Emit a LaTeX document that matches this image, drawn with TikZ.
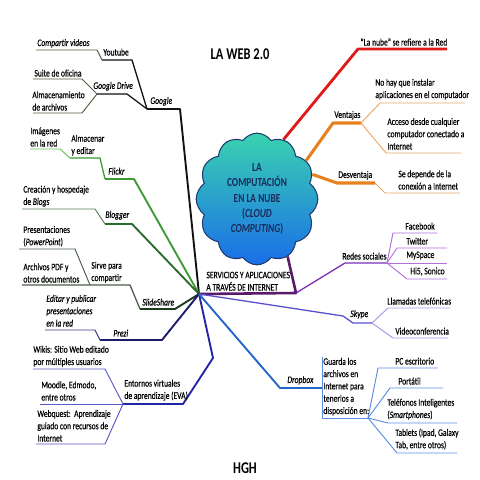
\documentclass[tikz,border=0pt]{standalone}
\usepackage{fontspec}
\setmainfont{Carlito}[FakeStretch=0.76, UprightFeatures={FakeBold=0.4}, ItalicFeatures={FakeBold=0.4}]
\usetikzlibrary{shapes.symbols,backgrounds}

\definecolor{cGoogle}{HTML}{111111}
\definecolor{cGoogleSub}{HTML}{5A5A40}
\definecolor{cFlickr}{HTML}{3D9A35}
\definecolor{cFlickrSub}{HTML}{6CBF5A}
\definecolor{cBlogger}{HTML}{2D6A2D}
\definecolor{cBloggerSub}{HTML}{557A55}
\definecolor{cSlide}{HTML}{1E3A1E}
\definecolor{cSlideSub}{HTML}{4A5E4A}
\definecolor{cPrezi}{HTML}{1B1B6A}
\definecolor{cPreziSub}{HTML}{3A3A7A}
\definecolor{cEva}{HTML}{2424A8}
\definecolor{cEvaSub}{HTML}{5A5AC8}
\definecolor{cDrop}{HTML}{2466C8}
\definecolor{cDropSub}{HTML}{5A8EE0}
\definecolor{cSkype}{HTML}{5850D0}
\definecolor{cSkypeSub}{HTML}{A09AE8}
\definecolor{cRedes}{HTML}{7A30B8}
\definecolor{cRedesSub}{HTML}{B070E0}
\definecolor{cServ}{HTML}{5A1A6A}
\definecolor{cRed}{HTML}{E01A1A}
\definecolor{cOrange}{HTML}{E8801E}
\definecolor{cOrangeSub}{HTML}{EAA868}
\definecolor{cCloudTop}{HTML}{3AD2B0}
\definecolor{cCloudBot}{HTML}{1A6EE8}
\definecolor{cCloudLine}{HTML}{203A70}
\definecolor{cCloudTxt}{HTML}{1A2A5A}

\begin{document}
\begin{tikzpicture}[x=0.03cm, y=-0.03cm,
  lbl/.style={anchor=south west, inner sep=1pt, align=left, font=\fontsize{8.5}{10.5}\selectfont},
  ilbl/.style={lbl, font=\fontsize{8.5}{10.5}\selectfont\itshape},
  main/.style={line width=1.6pt, line join=round},
  mid/.style={line width=1.1pt, line join=round},
  sub/.style={line width=0.8pt, line join=round},
  cloudbox/.style={cloud, cloud puffs=12, cloud puff arc=110, aspect=0.9, draw=cCloudLine, line width=0.9pt,
    top color=cCloudTop, bottom color=cCloudBot, minimum width=3.65cm, minimum height=3.95cm, inner sep=0pt,
    align=center, font=\fontsize{10.5}{13}\selectfont\bfseries, text=cCloudTxt}]
\useasboundingbox (0,0) rectangle (480,480);
\coordinate (hub) at (199,294);
% --- centre: cloud and titles ---
\node[cloudbox] (cloud) at (257,199) {LA\\COMPUTACIÓN\\EN LA NUBE\\(\textit{CLOUD}\\\textit{COMPUTING})};
\node[font=\fontsize{14}{16}\selectfont\bfseries] (title) at (240,54) {LA WEB 2.0};
\node[font=\fontsize{14}{16}\selectfont\bfseries] (hgh) at (245,468) {HGH};
\node[lbl] (tServ) at (205,292) {SERVICIOS Y APLICACIONES\\A TRAVÉS DE INTERNET};
% --- branch: Google ---
\foreach \n/\x/\y in {g1/180/109, g2/147/109, g3/132/60, g4/102/60, g5/97/50, g6/36/50,
  g7/127/94, g8/97/94, g9/82/79, g10/33/79, g11/82/113, g12/33/113}
  \coordinate (\n) at (\x,\y);
\node[ilbl] (tCompartir) at (36,49) {Compartir videos};
\node[lbl] (tYoutube) at (102,57) {Youtube};
\node[lbl] (tSuite) at (33,78) {Suite de oficina};
\node[lbl] (tAlmac) at (31,112) {Almacenamiento\\de archivos};
\node[ilbl] (tGDrive) at (92,92) {Google Drive};
\node[ilbl] (tGoogle) at (149,107) {Google};
% --- branch: Flickr ---
\foreach \n/\x/\y in {f1/134/179, f2/105/179, f3/100/158, f4/70/158, f5/60/149, f6/30/149}
  \coordinate (\n) at (\x,\y);
\node[lbl] (tImagenes) at (29,148) {Imágenes\\en la red};
\node[lbl] (tAlmacenar) at (70,157) {Almacenar\\y editar};
\node[ilbl] (tFlickr) at (107,176) {Flickr};
% --- branch: Blogger ---
\foreach \n/\x/\y in {b1/132/224, b2/105/224, b3/95/209, b4/22/209}
  \coordinate (\n) at (\x,\y);
\node[lbl] (tCreacion) at (22,208) {Creación y hospedaje\\de \textit{Blogs}};
\node[ilbl] (tBlogger) at (104,221) {Blogger};
% --- branch: SlideShare ---
\foreach \n/\x/\y in {s1/175/309, s2/140/309, s3/130/285, s4/90/285, s5/22/285, s6/75/249, s7/19/249}
  \coordinate (\n) at (\x,\y);
\node[lbl] (tPresent) at (22,248) {Presentaciones\\(\textit{PowerPoint})};
\node[lbl] (tArchivos) at (22,284) {Archivos PDF y\\otros documentos};
\node[lbl] (tSirve) at (90,284) {Sirve para\\compartir};
\node[ilbl] (tSlide) at (141,307) {SlideShare};
% --- branch: Prezi ---
\foreach \n/\x/\y in {p1/162/340, p2/100/340, p3/95/330, p4/45/330}
  \coordinate (\n) at (\x,\y);
\node[ilbl] (tEditar) at (45,328) {Editar y publicar\\presentaciones\\en la red};
\node[ilbl] (tPrezi) at (112,338) {Prezi};
% --- branch: EVA ---
\foreach \n/\x/\y in {e1/213/358, e2/183/404, e3/123/404, e4/105/369, e5/33/369, e6/40/404, e7/105/444, e8/36/444}
  \coordinate (\n) at (\x,\y);
\node[lbl] (tWikis) at (32,368) {Wikis: Sitio Web editado\\por múltiples usuarios};
\node[lbl] (tMoodle) at (40,402) {Moodle, Edmodo,\\entre otros};
\node[lbl] (tWebquest) at (36,443) {Webquest:\ \ Aprendizaje\\guiado con recursos de\\Internet};
\node[lbl] (tEva) at (123,402) {Entornos virtuales\\de aprendizaje (EVA)};
% --- branch: la nube ---
\foreach \n/\x/\y in {r1/358/49, r2/447/49}
  \coordinate (\n) at (\x,\y);
\node[lbl] (tNube) at (359,47) {"La nube" se refiere a la Red};
% --- branch: ventajas / desventaja ---
\foreach \n/\x/\y in {v1/333/123, v2/361/123, v3/380/103, v4/465/103, v5/386/153, v6/461/153,
  d1/337/183, d2/375/183, d3/385/193, d4/460/193}
  \coordinate (\n) at (\x,\y);
\node[lbl] (tVentajas) at (333,121) {Ventajas};
\node[lbl] (tNoHay) at (374,101) {No hay que instalar\\aplicaciones en el computador};
\node[lbl] (tAcceso) at (386,151) {Acceso desde cualquier\\computador conectado a\\Internet};
\node[lbl] (tDesv) at (337,181) {Desventaja};
\node[lbl] (tSeDep) at (397,191) {Se depende de la\\conexión a Internet};
% --- branch: redes sociales ---
\foreach \n/\x/\y in {sv/296/293, rs1/345/263, rs2/387/263, rs3/393/233, rs4/437/233, rs5/397/248, rs6/447/248,
  rs7/447/263, rs8/407/279, rs9/447/279}
  \coordinate (\n) at (\x,\y);
\node[lbl] (tRedes) at (341,261) {Redes sociales};
\node[lbl] (tFacebook) at (404,231) {Facebook};
\node[lbl] (tTwitter) at (405,246) {Twitter};
\node[lbl] (tMySpace) at (405,261) {MySpace};
\node[lbl] (tHi5) at (409,277) {Hi5, Sonico};
% --- branch: Skype ---
\foreach \n/\x/\y in {k1/343/316, k2/353/323, k3/372/323, k4/388/308, k5/450/308, k6/393/338, k7/448/338}
  \coordinate (\n) at (\x,\y);
\node[ilbl] (tSkype) at (349,320) {Skype};
\node[lbl] (tLlamadas) at (386,306) {Llamadas telefónicas};
\node[lbl] (tVideo) at (394,336) {Videoconferencia};
% --- branch: Dropbox ---
\foreach \n/\x/\y in {db1/280/388, db2/322/388, db3/322/357, db4/322/418, db5/368/418, db6/378/368, db7/438/368,
  db8/390/388, db9/443/388, db10/388/423, db11/457/423, db12/397/453, db13/457/453}
  \coordinate (\n) at (\x,\y);
\node[ilbl] (tDropbox) at (286,386) {Dropbox};
\node[lbl] (tGuarda) at (322,417) {Guarda los\\archivos en\\Internet para\\tenerlos a\\disposición en:};
\node[lbl] (tPC) at (394,366) {PC escritorio};
\node[lbl] (tPortatil) at (397,386) {Portátil};
\node[lbl] (tTelef) at (386,421) {Teléfonos Inteligentes\\(\textit{Smartphones})};
\node[lbl] (tTablets) at (394,451) {Tablets (Ipad, Galaxy\\Tab, entre otros)};
% --- connectors, under the cloud ---
\begin{pgfonlayer}{background}
\fill[white] (0,0) rectangle (480,480);
\draw[main, cGoogle] (hub) -- (g1) -- (g2);
\draw[mid, cGoogle] (g2) -- (g3) -- (g4);
\draw[mid, cGoogle] (g2) -- (g7) -- (g8);
\draw[sub, cGoogleSub] (g4) -- (g5) -- (g6);
\draw[sub, cGoogleSub] (g8) -- (g9) -- (g10);
\draw[sub, cGoogleSub] (g8) -- (g11) -- (g12);
\draw[main, cFlickr] (hub) -- (f1) -- (f2);
\draw[mid, cFlickr] (f2) -- (f3) -- (f4);
\draw[sub, cFlickrSub] (f4) -- (f5) -- (f6);
\draw[main, cBlogger] (hub) -- (b1) -- (b2);
\draw[sub, cBloggerSub] (b2) -- (b3) -- (b4);
\draw[main, cSlide] (hub) -- (s1) -- (s2);
\draw[mid, cSlideSub] (s2) -- (s3) -- (s4) -- (s5);
\draw[sub, cSlideSub] (s4) -- (s6) -- (s7);
\draw[main, cPrezi] (hub) -- (p1) -- (p2);
\draw[sub, cPreziSub] (p2) -- (p3) -- (p4);
\draw[main, cEva] (hub) -- (e1) -- (e2) -- (e3);
\draw[sub, cEvaSub] (e3) -- (e4) -- (e5);
\draw[sub, cEvaSub] (e3) -- (e6);
\draw[sub, cEvaSub] (e3) -- (e7) -- (e8);
\draw[line width=2.4pt, cRed, line join=round] (cloud.66) -- (r1) -- (r2);
\draw[line width=2.6pt, cOrange, line join=round] (cloud.38) -- (v1) -- (v2);
\draw[sub, cOrangeSub] (v2) -- (v3) -- (v4);
\draw[sub, cOrangeSub] (v2) -- (v5) -- (v6);
\draw[line width=2.6pt, cOrange, line join=round] (cloud.24) -- (d1) -- (d2);
\draw[sub, cOrangeSub] (d2) -- (d3) -- (d4);
\draw[line width=2.2pt, cServ, line join=round] (cloud.-62) -- (sv) -- (hub);
\draw[mid, cRedes] (sv) -- (rs1) -- (rs2);
\draw[sub, cRedesSub] (rs2) -- (rs3) -- (rs4);
\draw[sub, cRedesSub] (rs2) -- (rs5) -- (rs6);
\draw[sub, cRedesSub] (rs2) -- (rs7);
\draw[sub, cRedesSub] (rs2) -- (rs8) -- (rs9);
\draw[mid, cSkype] (hub) -- (k1) -- (k2) -- (k3);
\draw[sub, cSkypeSub] (k3) -- (k4) -- (k5);
\draw[sub, cSkypeSub] (k3) -- (k6) -- (k7);
\draw[main, cDrop] (hub) -- (db1) -- (db2);
\draw[sub, cDropSub] (db3) -- (db4) -- (db5);
\draw[sub, cDropSub] (db5) -- (db6) -- (db7);
\draw[sub, cDropSub] (db5) -- (db8) -- (db9);
\draw[sub, cDropSub] (db5) -- (db10) -- (db11);
\draw[sub, cDropSub] (db5) -- (db12) -- (db13);
\end{pgfonlayer}
\end{tikzpicture}
\end{document}
